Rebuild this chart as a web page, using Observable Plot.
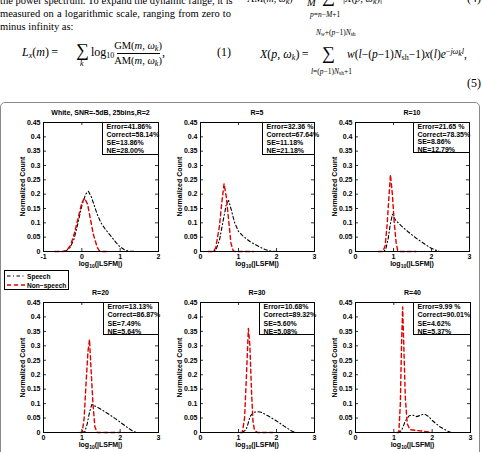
<!DOCTYPE html>
<html><head><meta charset="utf-8">
<script src="https://cdn.jsdelivr.net/npm/d3@7"></script>
<script src="https://cdn.jsdelivr.net/npm/@observablehq/plot@0.6"></script>
<style>
html,body{margin:0;padding:0;background:#fff;}
#page{position:relative;width:482px;height:452px;overflow:hidden;background:#fff;font-family:"Liberation Serif","Times New Roman",serif;color:#000}
.abs{position:absolute;white-space:nowrap}
.fig{font-family:"Liberation Sans",Arial,Helvetica,sans-serif;font-weight:bold;font-size:7px;line-height:9px}
.pl{position:absolute;left:0;width:231px;font-size:10.5px;line-height:13px;white-space:nowrap;text-align:justify;text-align-last:justify}
.eq{font-size:12px;line-height:13px}
.eq sub{font-size:8px;vertical-align:-2px;line-height:0}
.eq sup{font-size:8px;vertical-align:4px;line-height:0}
.lim{font-size:7.5px;line-height:9px}
.lim sub{font-size:5.5px;vertical-align:-1px;line-height:0}
.sig{font-size:18px;line-height:15px}
.figbox{position:absolute;left:0px;top:102px;width:478px;height:380px;border:1px solid #8a8a8a;border-radius:5px}
.stat{position:absolute;background:#fff;border:1px solid #000;box-sizing:border-box;padding:0 0 0 3.5px;font-family:"Liberation Sans",Arial,sans-serif;font-weight:bold;font-size:7px}
.xl sub{font-size:5px;vertical-align:-2px;line-height:0}
.legend{position:absolute;left:4px;top:270px;width:65px;height:20px;border:1px solid #000;box-sizing:border-box;background:#fff}
</style></head>
<body>
<div id="page">
  <!-- paper text above the figure -->
  <div class="pl" style="top:-6.5px">the power spectrum. To expand the dynamic range, it is</div>
  <div class="pl" style="top:6.5px">measured on a logarithmic scale, ranging from zero to</div>
  <div class="abs" style="left:0;top:19.5px;font-size:10.5px;line-height:13px">minus infinity as:</div>

  <div class="abs eq" style="left:22px;top:46px"><i>L<sub>x</sub></i>(<i>m</i>)&#8201;=</div>
  <div class="abs sig" style="left:76px;top:43px">∑</div>
  <div class="abs eq" style="left:80px;top:60px;font-size:8px;line-height:8px"><i>k</i></div>
  <div class="abs eq" style="left:91px;top:46px">log<sub>10</sub></div>
  <div class="abs eq" style="left:114px;top:39px;width:48px;text-align:center;font-size:10.5px">GM(<i>m</i>, <i>ω<sub>k</sub></i>)</div>
  <div class="abs" style="left:117px;top:52.5px;width:43px;border-top:0.8px solid #000"></div>
  <div class="abs eq" style="left:114px;top:54px;width:48px;text-align:center;font-size:10.5px">AM(<i>m</i>, <i>ω<sub>k</sub></i>)</div>
  <div class="abs eq" style="left:162px;top:46px">,</div>
  <div class="abs eq" style="left:217px;top:46px">(1)</div>

  <div class="abs eq" style="left:247px;top:-8px;font-size:10px">AM(<i>m</i>, <i>ω<sub>k</sub></i>) =</div>
  <div class="abs eq" style="left:307px;top:-4px;font-size:10.5px"><i>M</i></div>
  <div class="abs sig" style="left:322px;top:-11px">∑</div>
  <div class="abs lim" style="left:310px;top:10px"><i>p</i>=<i>n</i>−<i>M</i>+1</div>
  <div class="abs eq" style="left:343px;top:-8px;font-size:10.5px">|<i>X</i>(<i>p</i>, <i>ω<sub>k</sub></i>)|<sup>2</sup></div>
  <div class="abs eq" style="left:467px;top:-8px">(4)</div>

  <div class="abs eq" style="left:260px;top:48px"><i>X</i>(<i>p</i>, <i>ω<sub>k</sub></i>)&#8201;=</div>
  <div class="abs sig" style="left:322px;top:46px">∑</div>
  <div class="abs lim" style="left:316px;top:28px"><i>N<sub>w</sub></i>+(<i>p</i>−1)<i>N</i><sub>sh</sub></div>
  <div class="abs lim" style="left:311px;top:67px"><i>l</i>=(<i>p</i>−1)<i>N</i><sub>sh</sub>+1</div>
  <div class="abs eq" style="left:347px;top:48px;font-size:11.5px"><i>w</i>(<i>l</i>−(<i>p</i>−1)<i>N</i><sub>sh</sub>−1)<i>x</i>(<i>l</i>)<i>e</i><sup>−<i>jω<sub>k</sub>l</i></sup>,</div>
  <div class="abs eq" style="left:467px;top:77px">(5)</div>

  <div class="figbox"></div>
</div>
<script>
// ---------- data ----------
const yTicks = [0, 0.05, 0.1, 0.15, 0.2, 0.25, 0.3, 0.35, 0.4, 0.45];
const xTicksR2 = [-1, 0, 1, 2];
const xTicks = [0, 1, 2, 3];
const titles = ["White, SNR=-5dB, 25bins,R=2", "R=5", "R=10", "R=20", "R=30", "R=40"];
const seriesNames = ["Speech", "Non\u2212speech"];
const xLabel = "log<sub>10</sub>(|LSFM|)";
const yLabel = "Normalized Count";

const statsR2  = ["Error=41.86%", "Correct=58.14%", "SE=13.86%", "NE=28.00%"];
const statsR5  = ["Error=32.36 %", "Correct=67.64%", "SE=11.18%", "NE=21.18%"];
const statsR10 = ["Error=21.65 %", "Correct=78.35%", "SE=8.86%", "NE=12.79%"];
const statsR20 = ["Error=13.13%", "Correct=86.87%", "SE=7.49%", "NE=5.64%"];
const statsR30 = ["Error=10.68%", "Correct=89.32%", "SE=5.60%", "NE=5.08%"];
const statsR40 = ["Error=9.99 %", "Correct=90.01%", "SE=4.62%", "NE=5.37%"];

const speechR2 = [[-0.7,0],[-0.5,0],[-0.4,0.003],[-0.3,0.015],[-0.2,0.045],[-0.1,0.1],[0,0.16],[0.1,0.2],[0.17,0.21],[0.25,0.19],[0.3,0.17],[0.4,0.13],[0.5,0.1],[0.6,0.08],[0.7,0.063],[0.8,0.047],[0.9,0.03],[1.0,0.016],[1.1,0.007],[1.2,0.002],[1.3,0.0005],[1.5,0],[1.7,0]];
const nonSpeechR2 = [[-0.7,0],[-0.5,0],[-0.4,0.003],[-0.3,0.02],[-0.2,0.06],[-0.1,0.115],[0,0.17],[0.07,0.186],[0.15,0.165],[0.2,0.13],[0.3,0.06],[0.4,0.015],[0.45,0.004],[0.5,0],[0.7,0]];
const speechR5 = [[0.2,0],[0.3,0],[0.4,0.004],[0.5,0.04],[0.6,0.11],[0.68,0.165],[0.74,0.178],[0.8,0.15],[0.9,0.1],[1.0,0.07],[1.1,0.056],[1.2,0.045],[1.3,0.035],[1.4,0.027],[1.5,0.02],[1.6,0.013],[1.7,0.007],[1.8,0.003],[1.9,0.001],[2.0,0]];
const nonSpeechR5 = [[0.2,0],[0.33,0],[0.4,0.012],[0.5,0.09],[0.56,0.17],[0.62,0.236],[0.68,0.19],[0.74,0.11],[0.8,0.03],[0.86,0.003],[0.9,0],[1.4,0]];
const speechR10 = [[0.6,0],[0.75,0],[0.8,0.01],[0.86,0.045],[0.91,0.09],[0.97,0.13],[1.05,0.11],[1.2,0.09],[1.4,0.067],[1.6,0.046],[1.8,0.028],[1.9,0.019],[2.0,0.011],[2.1,0.005],[2.2,0.001],[2.3,0]];
const nonSpeechR10 = [[0.6,0],[0.72,0],[0.78,0.02],[0.83,0.09],[0.88,0.19],[0.92,0.268],[0.97,0.2],[1.02,0.1],[1.07,0.03],[1.11,0.004],[1.15,0],[1.6,0]];
const speechR20 = [[1.0,0],[1.08,0.003],[1.14,0.03],[1.2,0.07],[1.26,0.097],[1.4,0.088],[1.6,0.072],[1.8,0.055],[2.0,0.036],[2.2,0.016],[2.35,0.003],[2.45,0]];
const nonSpeechR20 = [[0.95,0],[1.01,0],[1.06,0.05],[1.11,0.17],[1.16,0.28],[1.2,0.322],[1.24,0.22],[1.29,0.1],[1.34,0.02],[1.4,0],[2.0,0]];
const speechR30 = [[1.1,0],[1.2,0.01],[1.25,0.03],[1.3,0.055],[1.4,0.07],[1.5,0.072],[1.6,0.07],[1.8,0.056],[2.0,0.04],[2.2,0.022],[2.4,0.005],[2.5,0]];
const nonSpeechR30 = [[1.05,0],[1.1,0],[1.16,0.05],[1.21,0.2],[1.26,0.36],[1.3,0.3],[1.34,0.15],[1.38,0.04],[1.42,0.008],[1.5,0],[1.9,0]];
const speechR40 = [[1.1,0],[1.2,0.006],[1.3,0.04],[1.4,0.058],[1.5,0.06],[1.6,0.055],[1.7,0.06],[1.8,0.064],[1.9,0.056],[2.0,0.042],[2.2,0.02],[2.4,0.005],[2.5,0]];
const nonSpeechR40 = [[1.08,0],[1.13,0],[1.17,0.1],[1.2,0.3],[1.23,0.435],[1.26,0.3],[1.3,0.12],[1.35,0.03],[1.42,0.01],[1.6,0.007],[1.8,0.004],[2.0,0]];

// ---------- layout ----------
const speechStyle = {stroke: "#000", strokeWidth: 1.1, strokeDasharray: "3.5,2.5,1,2.5"};
const nonStyle = {stroke: "#e00000", strokeWidth: 1.4, strokeDasharray: "4,3"};

const panels = [
  {title: titles[0], speech: speechR2,  non: nonSpeechR2,  stats: statsR2,  ticks: xTicksR2, left: 43,  top: 122, w: 115, h: 129, boxLeft: 102, boxH: 33, lh: 8},
  {title: titles[1], speech: speechR5,  non: nonSpeechR5,  stats: statsR5,  ticks: xTicks,   left: 200, top: 122, w: 114, h: 129, boxLeft: 262, boxH: 33, lh: 8},
  {title: titles[2], speech: speechR10, non: nonSpeechR10, stats: statsR10, ticks: xTicks,   left: 355, top: 122, w: 114, h: 129, boxLeft: 413, boxH: 31, lh: 7.6},
  {title: titles[3], speech: speechR20, non: nonSpeechR20, stats: statsR20, ticks: xTicks,   left: 43,  top: 302, w: 115, h: 130, boxLeft: 103, boxH: 33, lh: 8.4},
  {title: titles[4], speech: speechR30, non: nonSpeechR30, stats: statsR30, ticks: xTicks,   left: 200, top: 302, w: 114, h: 130, boxLeft: 259, boxH: 33, lh: 8.4},
  {title: titles[5], speech: speechR40, non: nonSpeechR40, stats: statsR40, ticks: xTicks,   left: 355, top: 302, w: 115, h: 130, boxLeft: 413, boxH: 33, lh: 8.4}
];

const page = document.getElementById("page");
function addDiv(cls, css, html) {
  const d = document.createElement("div");
  d.className = cls;
  Object.assign(d.style, css);
  d.innerHTML = html;
  page.appendChild(d);
  return d;
}

const mL = 32, mR = 4, mT = 4, mB = 14;
for (const p of panels) {
  const fmt = d => String(d);
  const svg = Plot.plot({
    width: p.w + mL + mR, height: p.h + mT + mB,
    marginLeft: mL, marginRight: mR, marginTop: mT, marginBottom: mB,
    style: {fontFamily: "'Liberation Sans', Arial, sans-serif", fontSize: "7px", fontWeight: "bold", background: "transparent", overflow: "visible", color: "#000"},
    x: {domain: [p.ticks[0], p.ticks[p.ticks.length - 1]]},
    y: {domain: [yTicks[0], yTicks[yTicks.length - 1]]},
    marks: [
      Plot.line(p.speech, {x: d => d[0], y: d => d[1], ...speechStyle}),
      Plot.line(p.non, {x: d => d[0], y: d => d[1], ...nonStyle}),
      Plot.tickX(p.ticks, {x: d => d, insetTop: p.h - 3, stroke: "#000", strokeWidth: 0.8}),
      Plot.tickX(p.ticks, {x: d => d, insetBottom: p.h - 3, stroke: "#000", strokeWidth: 0.8}),
      Plot.tickY(yTicks, {y: d => d, insetRight: p.w - 3, stroke: "#000", strokeWidth: 0.8}),
      Plot.tickY(yTicks, {y: d => d, insetLeft: p.w - 3, stroke: "#000", strokeWidth: 0.8}),
      Plot.frame({stroke: "#000", strokeWidth: 1}),
      Plot.axisX(p.ticks, {tickSize: 0, tickPadding: 2.5, tickFormat: fmt, label: null}),
      Plot.axisY(yTicks, {tickSize: 0, tickPadding: 3, tickFormat: fmt, label: null})
    ]
  });
  Object.assign(svg.style, {position: "absolute", left: (p.left - mL) + "px", top: (p.top - mT) + "px"});
  page.appendChild(svg);

  // title
  addDiv("abs fig", {left: p.left + "px", width: p.w + "px", top: (p.top - 14) + "px", textAlign: "center"}, p.title);
  // y label
  addDiv("abs fig", {left: (p.left - 21 - 50) + "px", width: "100px", top: (p.top + p.h / 2 - 4.5) + "px", textAlign: "center", transform: "rotate(-90deg)"}, yLabel);
  // x label
  addDiv("abs fig xl", {left: (p.left + p.w / 2 - 40) + "px", width: "80px", top: (p.top + p.h + 8) + "px", textAlign: "center"}, xLabel);
  // statistics box
  addDiv("stat", {left: p.boxLeft + "px", top: p.top + "px", width: (p.left + p.w - p.boxLeft + 1) + "px", height: p.boxH + "px", lineHeight: p.lh + "px"}, p.stats.join("<br>"));
}

// legend
const leg = addDiv("legend", {}, "");
const lsvg = d3.create("svg").attr("width", 66).attr("height", 20).style("position", "absolute").style("left", "-1px").style("top", "-1px");
const legRows = [{name: seriesNames[0], st: speechStyle, y: 6}, {name: seriesNames[1], st: nonStyle, y: 15}];
for (const r of legRows) {
  lsvg.append("line").attr("x1", 3).attr("x2", 21).attr("y1", r.y).attr("y2", r.y)
    .attr("stroke", r.st.stroke).attr("stroke-width", r.st.strokeWidth).attr("stroke-dasharray", r.st.strokeDasharray);
  lsvg.append("text").attr("x", 23).attr("y", r.y + 2.5).text(r.name)
    .style("font-family", "'Liberation Sans', Arial, sans-serif").style("font-weight", "bold").style("font-size", "6.6px");
}
leg.appendChild(lsvg.node());
</script>
</body></html>
